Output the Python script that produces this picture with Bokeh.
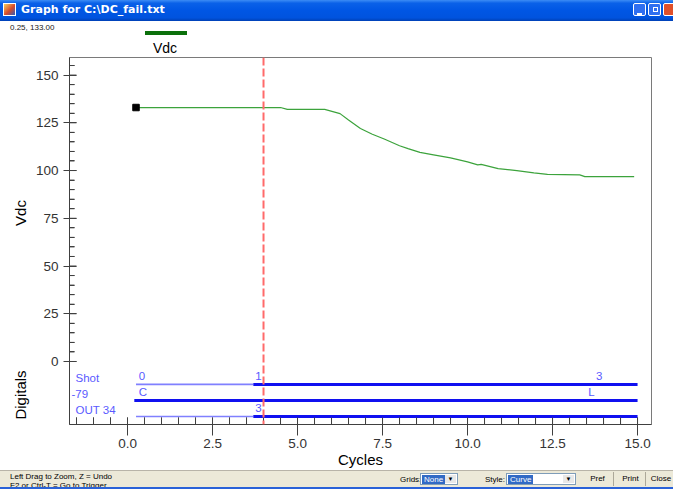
import math
from bokeh.plotting import figure
from bokeh.models import Span, FixedTicker, Range1d, Div
from bokeh.layouts import column, row
from bokeh.embed import file_html
from bokeh.resources import INLINE
from bokeh.core.properties import value

# ---------------- data ----------------
window_title = "Graph for C:\\DC_fail.txt"
cursor_text = "0.25, 133.00"
series_name = "Vdc"
x_axis_title = "Cycles"
y_axis_title = "Vdc"
digital_axis_title = "Digitals"

vdc_cycles = [0.25, 4.5, 4.7, 5.8, 6.25, 6.5, 6.85, 7.2, 7.55, 8.0, 8.25, 8.6,
              9.0, 9.5, 10.0, 10.3, 10.4, 10.9, 11.45, 11.95, 12.35, 13.3, 13.45, 14.9]
vdc_values = [133, 133, 132, 132, 129.8, 126.5, 122, 119, 116.5, 113, 111.5, 109.5,
              108.2, 106.6, 104.5, 103, 103.2, 101, 100, 98.8, 98, 97.7, 96.8, 96.8]
trigger_cycle = 4.0

x_ticks = [0, 2.5, 5, 7.5, 10, 12.5, 15]
x_tick_labels = ["0.0", "2.5", "5.0", "7.5", "10.0", "12.5", "15.0"]
x_minor = [-1.5, -1.0, -0.5, 0.5, 1.0, 1.5, 2.0, 3.0, 3.5, 4.0, 4.5, 5.5, 6.0, 6.5, 7.0,
           8.0, 8.5, 9.0, 9.5, 10.5, 11.0, 11.5, 12.0, 13.0, 13.5, 14.0, 14.5]
y_ticks = [0, 25, 50, 75, 100, 125, 150]
y_minor = [5, 10, 15, 20, 30, 35, 40, 45, 55, 60, 65, 70, 80, 85, 90, 95,
           105, 110, 115, 120, 130, 135, 140, 145, 155]

digital_names = ["Shot", "-79", "OUT 34"]
digital_start = [0.25, 0.2, 0.25]
digital_high_from = [3.7, 0.2, 3.7]
digital_end = [15.0, 15.0, 15.0]
digital_mark_lane = [0, 0, 0, 1, 1, 2]
digital_mark_cycle = [0.33, 3.76, 13.78, 0.33, 13.55, 3.76]
digital_mark_text = ["0", "1", "3", "C", "L", "3"]

# ---------------- geometry ----------------
X0, X1 = -1.706, 15.41
Y0, Y1 = -33.0, 159.2
PAGE_W = 673
TITLE_H, TOP_H, STATUS_H = 21, 34, 19
LEFT_W = 30
FIG_W, FIG_H = PAGE_W - LEFT_W, 415
B_LEFT, B_RIGHT, B_TOP, B_BOTTOM = 39, 22, 2, 46
FRAME_W = FIG_W - B_LEFT - B_RIGHT
FRAME_H = FIG_H - B_TOP - B_BOTTOM
ppu_x = FRAME_W / (X1 - X0)
ppu_y = FRAME_H / (Y1 - Y0)


def fx(px):
    return X0 + px / ppu_x


def lane_y(i):
    return -12.0 - 8.4 * i


FONT_NAME = "Liberation Sans"
FONT = value(FONT_NAME)
AXIS_COLOR = "#404040"
DIGI_TEXT = "#5A5AFF"

p = figure(width=FIG_W, height=FIG_H, x_range=Range1d(X0, X1), y_range=Range1d(Y0, Y1),
           output_backend="svg", toolbar_location=None,
           min_border_left=B_LEFT, min_border_right=B_RIGHT,
           min_border_top=B_TOP, min_border_bottom=B_BOTTOM)
p.xgrid.visible = False
p.ygrid.visible = False
p.background_fill_color = "white"
p.border_fill_color = "white"
p.outline_line_color = "#7a7a7a"
p.outline_line_width = 1

xa = p.xaxis[0]
xa.ticker = FixedTicker(ticks=x_ticks, minor_ticks=x_minor)
xa.major_label_overrides = {float(t): s for t, s in zip(x_ticks, x_tick_labels)}
xa.major_tick_in = 7
xa.major_tick_out = 11
xa.minor_tick_in = 7
xa.minor_tick_out = 0
xa.major_label_standoff = 3
xa.axis_line_color = AXIS_COLOR
xa.major_tick_line_color = AXIS_COLOR
xa.minor_tick_line_color = AXIS_COLOR
xa.major_label_text_font = FONT_NAME
xa.major_label_text_font_size = "13.5px"
xa.major_label_text_color = "#333333"
xa.axis_label = x_axis_title
xa.axis_label_text_font = FONT_NAME
xa.axis_label_text_font_size = "15px"
xa.axis_label_text_font_style = "normal"
xa.axis_label_text_color = "#000000"
xa.axis_label_standoff = 0

ya = p.yaxis[0]
ya.ticker = FixedTicker(ticks=y_ticks, minor_ticks=y_minor)
ya.major_tick_in = 7
ya.major_tick_out = 6
ya.minor_tick_in = 5
ya.minor_tick_out = 0
ya.major_label_standoff = 5
ya.axis_line_color = AXIS_COLOR
ya.major_tick_line_color = AXIS_COLOR
ya.minor_tick_line_color = AXIS_COLOR
ya.major_label_text_font = FONT_NAME
ya.major_label_text_font_size = "13.5px"
ya.major_label_text_color = "#333333"

# inward tick marks (drawn from the same tick lists)
p.ray(x=x_ticks + x_minor, y=[Y0] * (len(x_ticks) + len(x_minor)), length=7,
      length_units="screen", angle=math.pi / 2, line_color=AXIS_COLOR, line_width=1)
p.ray(x=[X0] * len(y_ticks), y=y_ticks, length=7, length_units="screen", angle=0,
      line_color=AXIS_COLOR, line_width=1)
p.ray(x=[X0] * len(y_minor), y=y_minor, length=5, length_units="screen", angle=0,
      line_color=AXIS_COLOR, line_width=1)

# Vdc curve
p.line(vdc_cycles, vdc_values, line_color="#3CA33C", line_width=1.2)
p.scatter([vdc_cycles[0]], [vdc_values[0]], marker="square", size=6.5,
          fill_color="black", line_color="black")

# digital channels
for i in range(len(digital_names)):
    y = lane_y(i)
    if digital_high_from[i] > digital_start[i]:
        p.segment(x0=[digital_start[i]], y0=[y], x1=[digital_high_from[i]], y1=[y],
                  line_color="#8080FF", line_width=1.6)
    p.segment(x0=[digital_high_from[i]], y0=[y], x1=[digital_end[i]], y1=[y],
              line_color="#1010F0", line_width=3)

name_offsets = [0, -4, 0]
p.text(x=[fx(6)] * len(digital_names),
       y=[lane_y(i) + 6.0 / ppu_y for i in range(len(digital_names))],
       text=digital_names, x_offset=name_offsets,
       text_font=FONT, text_font_size="11.5px", text_color=DIGI_TEXT,
       text_align="left", text_baseline="alphabetic")
p.text(x=digital_mark_cycle,
       y=[lane_y(l) + 8.5 / ppu_y for l in digital_mark_lane],
       text=digital_mark_text,
       text_font=FONT, text_font_size="11.5px", text_color=DIGI_TEXT,
       text_align="left", text_baseline="alphabetic")

# trigger line
p.add_layout(Span(location=trigger_cycle, dimension="height", line_color="#FF6A6A",
                  line_width=2, line_dash="8 3"))

# ---------------- surrounding texts / window chrome ----------------
title_html = f"""
<div style="position:relative;width:{PAGE_W}px;height:{TITLE_H}px;overflow:hidden;
 background:linear-gradient(to bottom,#3C8CF5 0%,#0A61E8 15%,#0056E4 50%,#0053DE 85%,#0040B5 100%);
 font-family:'DejaVu Sans',sans-serif;">
 <div style="position:absolute;left:3px;top:3px;width:13px;height:13px;border:1px solid #ffffff;
  background:linear-gradient(135deg,#f4d060,#d84a2a 55%,#2c5cc0);"></div>
 <div style="position:absolute;left:21px;top:3px;color:#ffffff;font-weight:bold;font-size:11px;
  line-height:14px;white-space:nowrap;">{window_title}</div>
 <div style="position:absolute;left:633px;top:3px;width:13px;height:13px;border:1px solid #fff;
  border-radius:2px;background:#2f6ff0;"><div style="position:absolute;left:3px;top:9px;width:5px;height:2px;background:#fff"></div></div>
 <div style="position:absolute;left:648px;top:3px;width:13px;height:13px;border:1px solid #fff;
  border-radius:2px;background:#2f6ff0;"><div style="position:absolute;left:4px;top:3px;width:5px;height:5px;border:1px solid #fff"></div></div>
 <div style="position:absolute;left:663px;top:3px;width:13px;height:13px;border:1px solid #fff;
  border-radius:2px;background:#e0502a;"></div>
</div>
"""

top_html = f"""
<div style="position:relative;width:{PAGE_W}px;height:{TOP_H}px;overflow:hidden;background:#fff;
 font-family:'{FONT_NAME}',sans-serif;">
 <div style="position:absolute;left:10px;top:2px;font-size:8px;line-height:10px;color:#202020;
  white-space:nowrap;">{cursor_text}</div>
 <div style="position:absolute;left:145px;top:10px;width:42px;height:4px;background:#0B700B;"></div>
 <div style="position:absolute;left:165px;top:27px;transform:translate(-50%,-50%);font-size:14px;
  line-height:16px;color:#000;white-space:nowrap;">{series_name}</div>
</div>
"""

left_html = f"""
<div style="position:relative;width:{LEFT_W}px;height:{FIG_H}px;overflow:hidden;background:#fff;
 font-family:'{FONT_NAME}',sans-serif;font-size:15px;color:#000;">
 <div style="position:absolute;left:20px;top:158px;transform:translate(-50%,-50%) rotate(-90deg);
  white-space:nowrap;line-height:17px;">{y_axis_title}</div>
 <div style="position:absolute;left:20px;top:340px;transform:translate(-50%,-50%) rotate(-90deg);
  white-space:nowrap;line-height:17px;">{digital_axis_title}</div>
</div>
"""

status_html = f"""
<div style="position:relative;width:{PAGE_W}px;height:{STATUS_H}px;overflow:hidden;background:#ECE9D8;
 border-top:1px solid #b8b4a8;box-sizing:border-box;font-family:'{FONT_NAME}',sans-serif;font-size:8px;color:#000;">
 <div style="position:absolute;left:10px;top:1px;line-height:9px;white-space:nowrap;">Left Drag to Zoom, Z = Undo<br>F2 or Ctrl-T = Go to Trigger</div>
 <div style="position:absolute;left:400px;top:3px;white-space:nowrap;">Grids:</div>
 <div style="position:absolute;left:420px;top:2px;width:38px;height:12px;background:#fff;border:1px solid #7f9db9;box-sizing:border-box;">
   <span style="position:absolute;left:1px;top:1px;background:#316AC5;color:#fff;padding:0 2px;line-height:9px;">None</span>
   <span style="position:absolute;right:1px;top:1px;width:11px;height:8px;background:#e8e8e8;font-size:6px;line-height:8px;text-align:center;">&#9660;</span>
 </div>
 <div style="position:absolute;left:485px;top:3px;white-space:nowrap;">Style:</div>
 <div style="position:absolute;left:506px;top:2px;width:70px;height:12px;background:#fff;border:1px solid #7f9db9;box-sizing:border-box;">
   <span style="position:absolute;left:1px;top:1px;background:#316AC5;color:#fff;padding:0 2px;line-height:9px;">Curve</span>
   <span style="position:absolute;right:1px;top:1px;width:11px;height:8px;background:#e8e8e8;font-size:6px;line-height:8px;text-align:center;">&#9660;</span>
 </div>
 <div style="position:absolute;left:582px;top:1px;width:32px;height:14px;border-right:1px solid #aca899;text-align:center;line-height:14px;">Pref</div>
 <div style="position:absolute;left:616px;top:1px;width:30px;height:14px;border-right:1px solid #aca899;text-align:center;line-height:14px;">Print</div>
 <div style="position:absolute;left:648px;top:1px;width:26px;height:14px;text-align:center;line-height:14px;">Close</div>
 <div style="position:absolute;left:0;top:16px;width:{PAGE_W}px;height:3px;background:#2a62d8;"></div>
</div>
"""

title_div = Div(text=title_html, width=PAGE_W, height=TITLE_H, margin=0)
top_div = Div(text=top_html, width=PAGE_W, height=TOP_H, margin=0)
left_div = Div(text=left_html, width=LEFT_W, height=FIG_H, margin=0)
status_div = Div(text=status_html, width=PAGE_W, height=STATUS_H, margin=0)

layout = column(title_div, top_div, row(left_div, p, spacing=0), status_div, spacing=0)
open("out.html", "w").write(file_html(layout, INLINE))
